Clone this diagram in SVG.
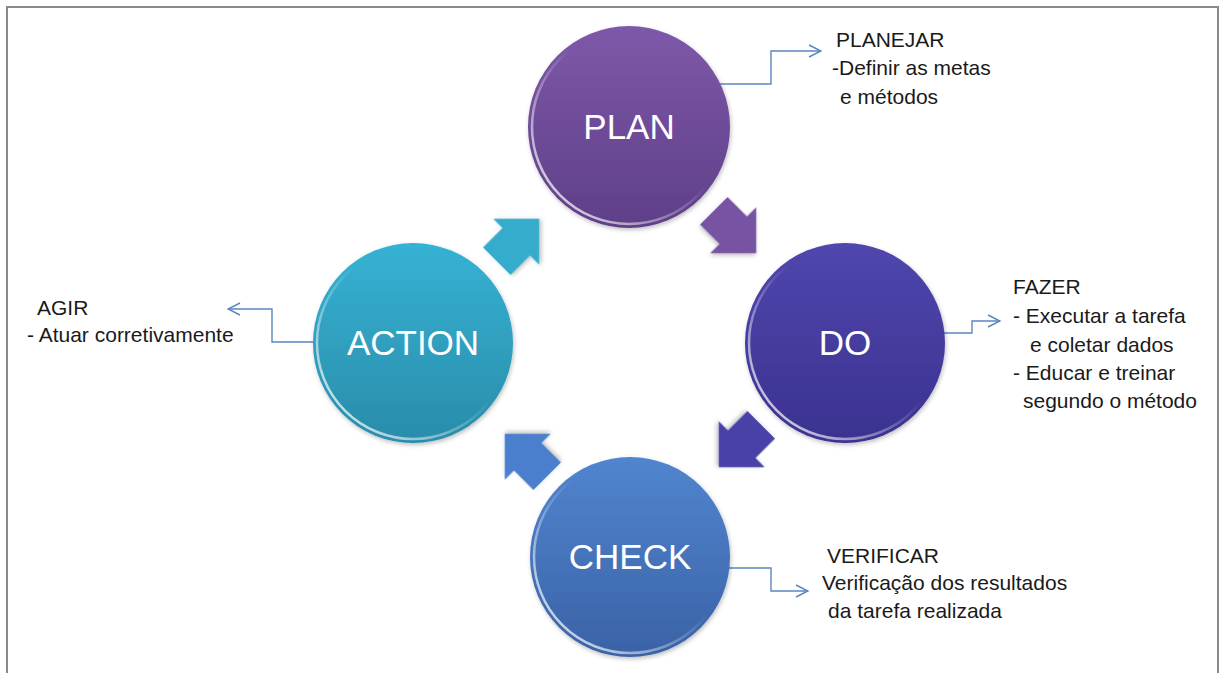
<svg xmlns="http://www.w3.org/2000/svg" width="1220" height="673" viewBox="0 0 1220 673">
<style>
.lbl{font-family:"Liberation Sans",Arial,sans-serif;font-size:35px;fill:#ffffff;text-anchor:middle}
.note{font-family:"Liberation Sans",Arial,sans-serif;font-size:21px;fill:#1a1a1a}
.conn{fill:none;stroke:#5b86c0;stroke-width:1.4}
.rim{fill:none;stroke:url(#rim);stroke-width:2.5}
</style>
<defs>
<linearGradient id="gPlan" x1="0" y1="0" x2="0" y2="1"><stop offset="0" stop-color="#7e58a9"/><stop offset="1" stop-color="#5f3f88"/></linearGradient>
<linearGradient id="gDo" x1="0" y1="0" x2="0" y2="1"><stop offset="0" stop-color="#5046ad"/><stop offset="1" stop-color="#3b3290"/></linearGradient>
<linearGradient id="gCheck" x1="0" y1="0" x2="0" y2="1"><stop offset="0" stop-color="#5185cf"/><stop offset="1" stop-color="#3a62a6"/></linearGradient>
<linearGradient id="gAction" x1="0" y1="0" x2="0" y2="1"><stop offset="0" stop-color="#36b2d4"/><stop offset="1" stop-color="#2a8caa"/></linearGradient>
<linearGradient id="rim" x1="1" y1="0" x2="0" y2="1"><stop offset="0.45" stop-color="#ffffff" stop-opacity="0"/><stop offset="0.85" stop-color="#ffffff" stop-opacity="0.7"/><stop offset="1" stop-color="#ffffff" stop-opacity="0.3"/></linearGradient>
<path id="arr" d="M -30,-19.5 L -2.5,-19.5 L -2.5,-32.5 L 30,0 L -2.5,32.5 L -2.5,19.5 L -30,19.5 Z"/>
<marker id="open" viewBox="0 0 14 14" refX="13" refY="7" markerWidth="14" markerHeight="14" markerUnits="userSpaceOnUse" orient="auto"><path d="M 1,1 L 13,7 L 1,13" fill="none" stroke="#5b86c0" stroke-width="1.4"/></marker>
<filter id="sh" x="-20%" y="-20%" width="140%" height="140%"><feDropShadow dx="1" dy="2" stdDeviation="2" flood-color="#000" flood-opacity="0.25"/></filter>
</defs>
<rect x="7" y="7" width="1211" height="700" fill="#ffffff" stroke="#8a8a8a" stroke-width="2"/>
<g id="connectors">
<polyline class="conn" points="720,84 771,84 771,51 821,51" marker-end="url(#open)"/>
<polyline class="conn" points="944,333 972,333 972,321 1000,321" marker-end="url(#open)"/>
<polyline class="conn" points="729,568 771,568 771,591 808,591" marker-end="url(#open)"/>
<polyline class="conn" points="313,342 272,342 272,309 228,309" marker-end="url(#open)"/>
</g>
<g id="arrows">
<use href="#arr" transform="translate(735,232) rotate(45)" fill="#7853a3" filter="url(#sh)"/>
<use href="#arr" transform="translate(740,446) rotate(135)" fill="#4a40a8" filter="url(#sh)"/>
<use href="#arr" transform="translate(526,455) rotate(225)" fill="#4a7fcc" filter="url(#sh)"/>
<use href="#arr" transform="translate(518,240) rotate(-45)" fill="#34accb" filter="url(#sh)"/>
</g>
<g id="plan">
<circle cx="629" cy="127" r="101" fill="url(#gPlan)" filter="url(#sh)"/>
<circle class="rim" cx="629" cy="127" r="97"/>
<text class="lbl" x="629" y="139">PLAN</text>
</g>
<g id="do">
<circle cx="845" cy="343" r="100" fill="url(#gDo)" filter="url(#sh)"/>
<circle class="rim" cx="845" cy="343" r="96"/>
<text class="lbl" x="845" y="355">DO</text>
</g>
<g id="check">
<circle cx="630" cy="557" r="100" fill="url(#gCheck)" filter="url(#sh)"/>
<circle class="rim" cx="630" cy="557" r="96"/>
<text class="lbl" x="630" y="569">CHECK</text>
</g>
<g id="action">
<circle cx="413" cy="343" r="100" fill="url(#gAction)" filter="url(#sh)"/>
<circle class="rim" cx="413" cy="343" r="96"/>
<text class="lbl" x="413" y="355">ACTION</text>
</g>
<g id="note-plan">
<text class="note" x="836" y="47">PLANEJAR</text>
<text class="note" x="832" y="75">-Definir as metas</text>
<text class="note" x="840" y="104">e métodos</text>
</g>
<g id="note-do">
<text class="note" x="1013" y="294">FAZER</text>
<text class="note" x="1013" y="323">- Executar a tarefa</text>
<text class="note" x="1030" y="352">e coletar dados</text>
<text class="note" x="1013" y="380">- Educar e treinar</text>
<text class="note" x="1023" y="408">segundo o método</text>
</g>
<g id="note-check">
<text class="note" x="827" y="563">VERIFICAR</text>
<text class="note" x="822" y="590">Verificação dos resultados</text>
<text class="note" x="828" y="618">da tarefa realizada</text>
</g>
<g id="note-action">
<text class="note" x="37" y="315">AGIR</text>
<text class="note" x="27" y="342">- Atuar corretivamente</text>
</g>
</svg>
